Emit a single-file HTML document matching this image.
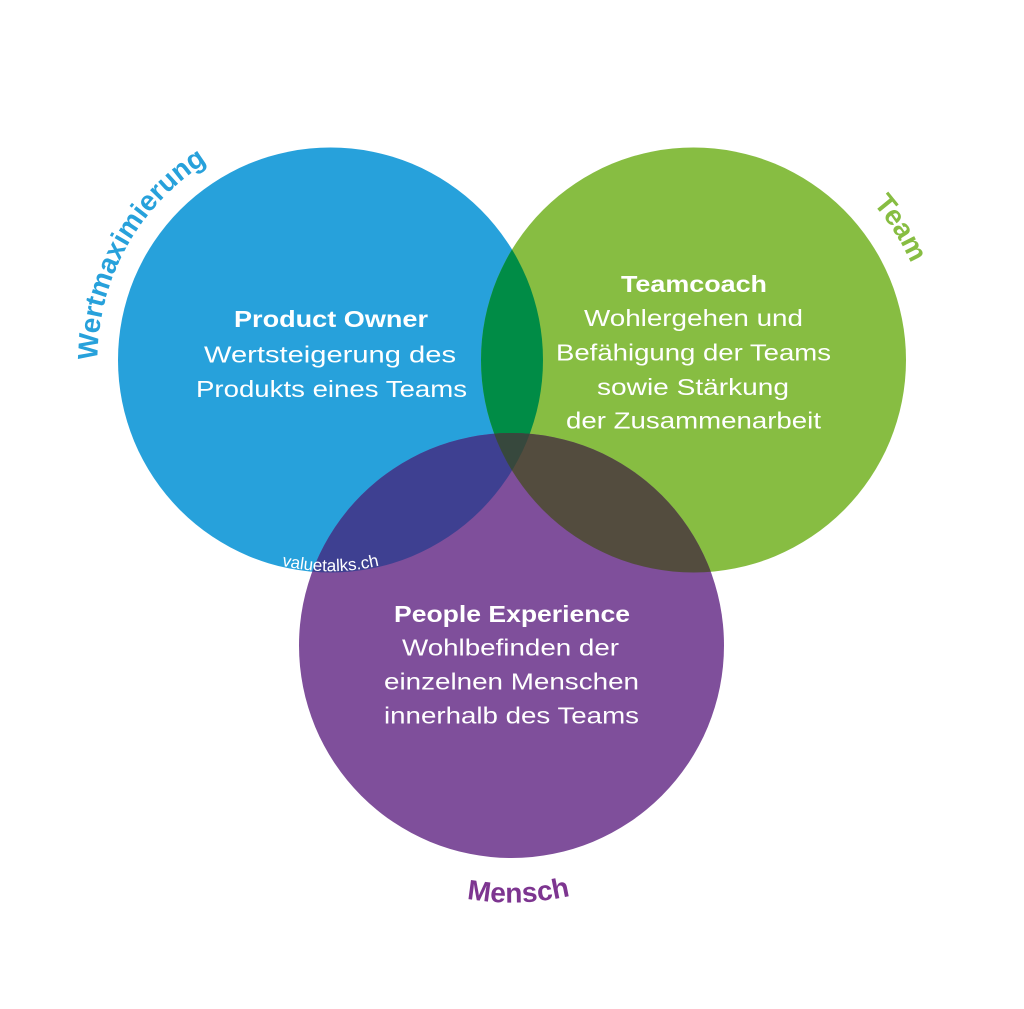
<!DOCTYPE html>
<html>
<head>
<meta charset="utf-8">
<style>
html,body{margin:0;padding:0;background:#fff;}
svg{display:block;}
text{font-family:"Liberation Sans", Arial, sans-serif;}
</style>
</head>
<body>
<svg width="1024" height="1009" viewBox="0 0 1024 1009" xmlns="http://www.w3.org/2000/svg">
<defs>
<clipPath id="cb"><circle cx="330.5" cy="360" r="212.5"/></clipPath>
<clipPath id="cg"><circle cx="693.5" cy="360" r="212.5"/></clipPath>
<path id="pw" d="M 98.4 380.3 A 233 233 0 0 1 224.7 152.4"/>
<path id="pt" d="M 838.4 171.2 A 238 238 0 0 1 925.9 308.5"/>
<path id="pm" d="M 409.4 881.4 A 257 257 0 0 0 626.6 875.3"/>
<path id="pv" d="M 224.5 542.7 A 211 211 0 0 0 436.5 542.7"/>
</defs>
<rect width="1024" height="1009" fill="#fff"/>
<circle cx="330.5" cy="360" r="212.5" fill="#27A1DB"/>
<circle cx="693.5" cy="360" r="212.5" fill="#87BD42"/>
<circle cx="511.5" cy="645.5" r="212.5" fill="#7F4F9B"/>
<g clip-path="url(#cb)"><circle cx="693.5" cy="360" r="212.5" fill="#008C46"/></g>
<g clip-path="url(#cb)"><circle cx="511.5" cy="645.5" r="212.5" fill="#3E4091"/></g>
<g clip-path="url(#cg)"><circle cx="511.5" cy="645.5" r="212.5" fill="#534C3E"/></g>
<g clip-path="url(#cb)"><g clip-path="url(#cg)"><circle cx="511.5" cy="645.5" r="212.5" fill="#37483D"/></g></g>

<!-- curved labels -->
<text font-size="28" font-weight="bold" fill="#27A1DB" text-anchor="middle"><textPath href="#pw" startOffset="50%">Wertmaximierung</textPath></text>
<text font-size="28" font-weight="bold" fill="#87BD42" text-anchor="middle"><textPath href="#pt" startOffset="50%">Team</textPath></text>
<text font-size="28" font-weight="bold" fill="#7D3590" text-anchor="middle"><textPath href="#pm" startOffset="50%">Mensch</textPath></text>
<text font-size="17" fill="#fff" text-anchor="middle"><textPath href="#pv" startOffset="50%">valuetalks.ch</textPath></text>

<!-- Product Owner -->
<g fill="#fff" font-size="23">
<text x="234" y="327" font-weight="bold" textLength="194" lengthAdjust="spacingAndGlyphs">Product Owner</text>
<text x="204" y="362.5" textLength="252" lengthAdjust="spacingAndGlyphs">Wertsteigerung des</text>
<text x="196" y="397" textLength="271" lengthAdjust="spacingAndGlyphs">Produkts eines Teams</text>

<!-- Teamcoach -->
<text x="621" y="292" font-weight="bold" textLength="146" lengthAdjust="spacingAndGlyphs">Teamcoach</text>
<text x="584" y="326" textLength="219" lengthAdjust="spacingAndGlyphs">Wohlergehen und</text>
<text x="556" y="360.5" textLength="275" lengthAdjust="spacingAndGlyphs">Befähigung der Teams</text>
<text x="597" y="395" textLength="192" lengthAdjust="spacingAndGlyphs">sowie Stärkung</text>
<text x="566" y="428.5" textLength="255" lengthAdjust="spacingAndGlyphs">der Zusammenarbeit</text>

<!-- People Experience -->
<text x="394" y="622" font-weight="bold" textLength="236" lengthAdjust="spacingAndGlyphs">People Experience</text>
<text x="402" y="655.5" textLength="217" lengthAdjust="spacingAndGlyphs">Wohlbefinden der</text>
<text x="384" y="689.5" textLength="255" lengthAdjust="spacingAndGlyphs">einzelnen Menschen</text>
<text x="384" y="723.5" textLength="255" lengthAdjust="spacingAndGlyphs">innerhalb des Teams</text>
</g>
</svg>
</body>
</html>
